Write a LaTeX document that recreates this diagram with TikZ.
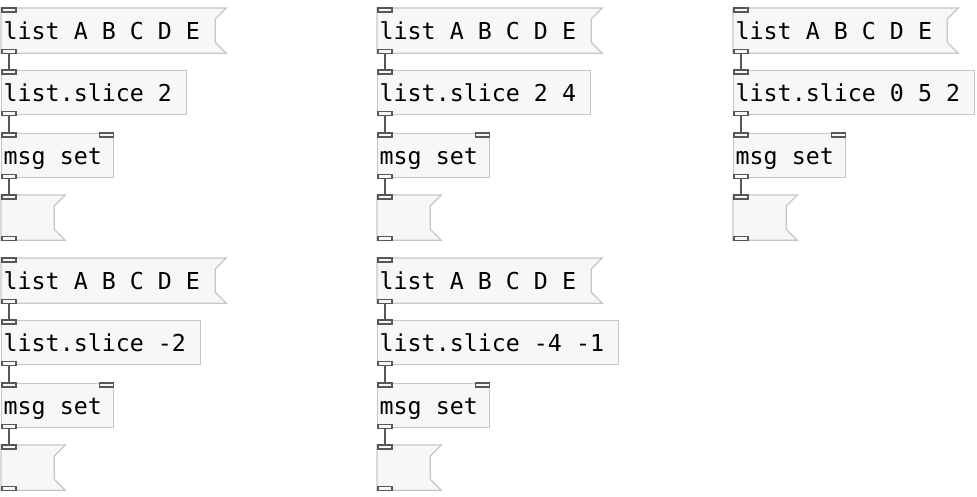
\documentclass[tikz,border=0pt]{standalone}
\usepackage{fontspec}
\setmonofont{DejaVu Sans Mono}
\usetikzlibrary{calc,backgrounds}
\definecolor{boxfill}{HTML}{F6F7F9}
\definecolor{boxline}{HTML}{C6C6C6}
\definecolor{cordcol}{HTML}{575757}
\protected\def\pdboxfont{\ttfamily\fontsize{23.3}{28}\selectfont
  \spaceskip=0.602em\relax}
\tikzset{
  obj/.style={draw=boxline, line width=1.3pt, fill=boxfill, anchor=north west,
    minimum height=44pt, inner xsep=2pt, inner ysep=0pt, text height=20pt,
    text depth=3pt, align=flush left, font=\pdboxfont},
  msg/.style={obj, draw=none, fill=none},
  flag/.style={draw=boxline, line width=1.3pt, fill=boxfill},
  port/.style={draw=cordcol, line width=1.3pt, fill=boxfill},
  cord/.style={draw=cordcol, line width=2.4pt}
}
\begin{document}
\begin{tikzpicture}[x=1pt,y=-1pt]
\useasboundingbox (0,0) rectangle (977,496);
\foreach \p/\x/\y/\args/\w in {a/1/0/2/181pt, b/377/0/2 4/209pt, c/733/0/0 5 2/237pt,
    d/1/250/-2/195pt, e/377/250/-4 -1/237pt} {
  \node[msg, text width=220pt] (l\p) at (\x,\y+8) {list A B C D E};
  \node[obj, text width=\w] (s\p) at (\x,\y+70) {list.slice \args};
  \node[obj, text width=108pt] (m\p) at (\x,\y+133) {msg set};
  \node[msg, text width=59pt] (o\p) at (\x,\y+195) {};
}
% message boxes
\begin{scope}[on background layer]
\foreach \n in {la,lb,lc,ld,le,oa,ob,oc,od,oe}
  \draw[flag] (\n.north west) -- (\n.north east) -- ($(\n.north east)+(-11,11)$)
    -- ($(\n.south east)+(-11,-11)$) -- (\n.south east) -- (\n.south west) -- cycle;
\end{scope}
% cords
\foreach \p in {a,b,c,d,e} {
  \draw[cord] ($(l\p.south west)+(8,0)$) -- ($(s\p.north west)+(8,0)$);
  \draw[cord] ($(s\p.south west)+(8,0)$) -- ($(m\p.north west)+(8,0)$);
  \draw[cord] ($(m\p.south west)+(8,0)$) -- ($(o\p.north west)+(8,0)$);
}
% inlets and outlets
\foreach \p in {a,b,c,d,e} {
  \foreach \n in {l,s,m,o} {
    \draw[port] ($(\n\p.north west)+(1,0)$) rectangle +(14,4);
    \draw[port] ($(\n\p.south west)+(1,-4)$) rectangle +(14,4);
  }
  \draw[port] ($(m\p.north east)+(-15,0)$) rectangle +(14,4);
}
\end{tikzpicture}
\end{document}
